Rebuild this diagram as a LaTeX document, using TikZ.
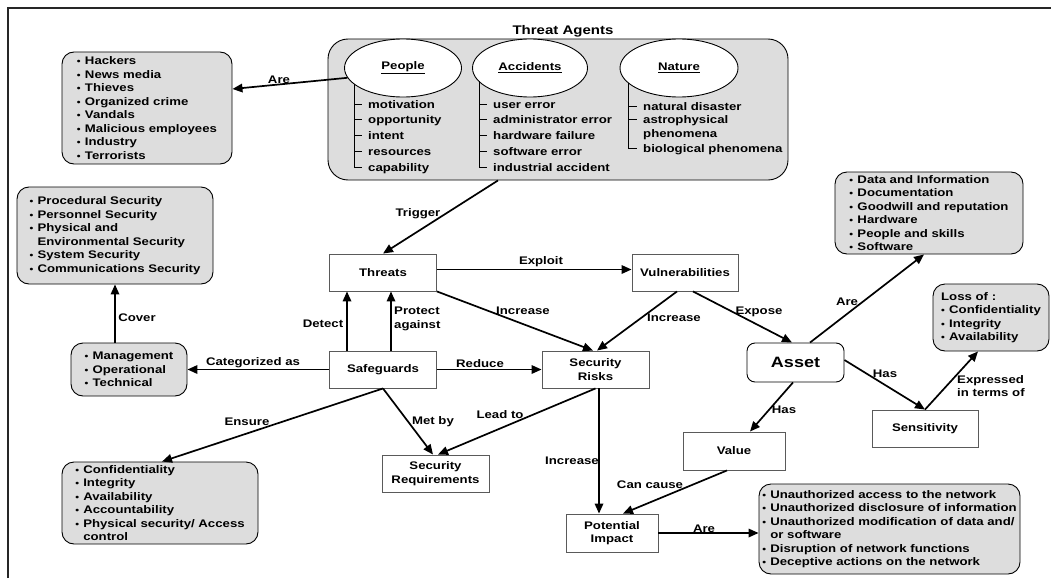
\documentclass[tikz,border=0pt]{standalone}
\usepackage{fontspec}
\setmainfont{Liberation Sans}[FakeStretch=1.2]
\usetikzlibrary{arrows.meta,shapes.geometric}
\definecolor{listgray}{RGB}{221,221,221}
\definecolor{edgegray}{RGB}{90,90,90}
\newcommand\bl{\makebox[8pt][l]{\fontsize{9}{9}\selectfont\textbullet}}
\newcommand\ind{\hspace*{8pt}}
\tikzset{
  base/.style={font=\bfseries\fontsize{11}{13.5}\selectfont},
  box/.style={base, draw=edgegray, line width=0.9pt, fill=white, minimum width=107pt, minimum height=37pt, align=center, inner sep=2pt},
  lst/.style={base, draw=black, line width=0.9pt, fill=listgray, rounded corners=12pt, align=left, inner sep=2pt},
  arr/.style={line width=1.7pt, -{Triangle[length=10pt,width=8.5pt]}},
  lbl/.style={base, inner sep=0pt},
  item/.style={base, anchor=base west, inner xsep=6pt, inner ysep=0pt},
  tree/.style={line width=0.9pt},
  agent/.style={base, ellipse, draw=black, line width=0.9pt, fill=white, minimum width=117pt, minimum height=58pt, inner sep=0pt},
}
\begin{document}
\begin{tikzpicture}[x=1pt,y=-1pt]
\useasboundingbox (0,0) rectangle (1051,578);
% outer frame
\draw[line width=1.2pt, black!85] (8,578) -- (8,8) -- (1051,8);

% threat agents group
\node[lst, rounded corners=20pt, minimum width=460pt, minimum height=141pt] (agents) at (558,109.5) {};
\node[base, font=\bfseries\fontsize{12.5}{14}\selectfont] (agtitle) at (563,31) {Threat Agents};
\node[agent] (people) at (403,68) {\underline{People}};
\node[agent, minimum width=115pt] (accid) at (530,68) {\underline{Accidents}};
\node[agent, minimum width=118pt] (nature) at (679,68) {\underline{Nature}};

% people branch
\node[item] (p1) at (362,108) {motivation};
\node[item] (p2) at (362,123.5) {opportunity};
\node[item] (p3) at (362,139) {intent};
\node[item] (p4) at (362,155) {resources};
\node[item] (p5) at (362,171) {capability};
\coordinate (pTop) at (354,84);
\foreach \i in {1,...,5} {\coordinate (tp\i) at ([yshift=4pt]p\i.base west);}
\foreach \i in {1,...,4} {\draw[tree] (pTop |- tp\i) -- (tp\i);}
\draw[tree] (pTop) |- (tp5);

% accidents branch
\node[item] (a1) at (487,108) {user error};
\node[item] (a2) at (487,123.5) {administrator error};
\node[item] (a3) at (487,139) {hardware failure};
\node[item] (a4) at (487,155) {software error};
\node[item] (a5) at (487,171) {industrial accident};
\coordinate (aTop) at (479,81);
\foreach \i in {1,...,5} {\coordinate (ta\i) at ([yshift=4pt]a\i.base west);}
\foreach \i in {1,...,4} {\draw[tree] (aTop |- ta\i) -- (ta\i);}
\draw[tree] (aTop) |- (ta5);

% nature branch
\node[item] (n1) at (637,110) {natural disaster};
\node[item] (n2) at (637,123) {astrophysical};
\node[item] (n2b) at (637,137) {phenomena};
\node[item] (n3) at (637,152) {biological phenomena};
\coordinate (nTop) at (628,83);
\foreach \i in {1,2,3} {\coordinate (tn\i) at ([yshift=4pt]n\i.base west);}
\foreach \i in {1,2} {\draw[tree] (nTop |- tn\i) -- (tn\i);}
\draw[tree] (nTop) |- (tn3);

% lists
\node[lst, minimum width=170pt, minimum height=112pt] (hackers) at (147,108)
  {\bl Hackers\\ \bl News media\\ \bl Thieves\\ \bl Organized crime\\ \bl Vandals\\ \bl Malicious employees\\ \bl Industry\\ \bl Terrorists};
\node[lst, minimum width=196pt, minimum height=97pt] (procedural) at (115,235.5)
  {\bl Procedural Security\\ \bl Personnel Security\\ \bl Physical and\\ \ind Environmental Security\\ \bl System Security\\ \bl Communications Security};
\node[lst, minimum width=116pt, minimum height=53pt] (mgmt) at (129,369.5)
  {\bl Management\\ \bl Operational\\ \bl Technical};
\node[lst, minimum width=196pt, minimum height=82pt] (conf) at (160,503)
  {\bl Confidentiality\\ \bl Integrity\\ \bl Availability\\ \bl Accountability\\ \bl Physical security/ Access\\ \ind control};
\node[lst, minimum width=188pt, minimum height=82pt] (assetlist) at (929,213)
  {\bl Data and Information\\ \bl Documentation\\ \bl Goodwill and reputation\\ \bl Hardware\\ \bl People and skills\\ \bl Software};
\node[lst, minimum width=116pt, minimum height=67pt] (loss) at (991,317.5)
  {Loss of :\\ \bl Confidentiality\\ \bl Integrity\\ \bl Availability};
\node[lst, minimum width=261pt, minimum height=90pt] (implist) at (889.5,529)
  {\bl Unauthorized access to the network\\ \bl Unauthorized disclosure of information\\ \bl Unauthorized modification of data and/\\ \ind or software\\ \bl Disruption of network functions\\ \bl Deceptive actions on the network};

% concept boxes
\node[box] (threats) at (383,272.5) {Threats};
\node[box, minimum width=106pt] (vuln) at (685,272.5) {Vulnerabilities};
\node[box] (safeg) at (383,369.5) {Safeguards};
\node[box] (risks) at (595.5,369.5) {Security\\Risks};
\node[box] (secreq) at (435.5,473.5) {Security\\Requirements};
\node[box, minimum width=92pt, minimum height=38pt] (impact) at (612,533) {Potential\\Impact};
\node[box, minimum width=102pt, minimum height=38pt] (value) at (734,451) {Value};
\node[box, minimum width=106pt] (sens) at (925,428.5) {Sensitivity};
\node[box, draw=black, rounded corners=8pt, minimum width=97pt, minimum height=39pt,
      font=\bfseries\fontsize{15}{17}\selectfont] (asset) at (795.5,362.5) {Asset};

% relations
\draw[arr] (people.190) -- ([yshift=19pt]hackers.east);
\draw[arr] ([xshift=-60pt]agents.south) -- (threats.north);
\draw[arr] ([yshift=3pt]threats.east) -- ([yshift=3pt]vuln.west);
\draw[arr] (threats.south east) -- ([xshift=-2.5pt]risks.north);
\draw[arr] ([xshift=-8pt]vuln.south) -- ([xshift=1.5pt]risks.north);
\draw[arr] ([xshift=-36pt]safeg.north) -- ([xshift=-36pt]threats.south);
\draw[arr] ([xshift=8pt]safeg.north) -- ([xshift=8pt]threats.south);
\draw[arr] (safeg.east) -- (risks.west);
\draw[arr] (safeg.west) -- (mgmt.east);
\draw[arr] ([xshift=-14pt]mgmt.north) -- (procedural.south);
\draw[arr] (safeg.south) -- ([xshift=2pt]conf.north);
\draw[arr] (safeg.south) -- ([xshift=-2.5pt]secreq.north);
\draw[arr] (risks.south) -- ([xshift=2.5pt]secreq.north);
\draw[arr] ([xshift=3.5pt]risks.south) -- ([xshift=-13pt]impact.north);
\draw[arr] ([xshift=-7pt]value.south) -- ([xshift=11pt]impact.north);
\draw[arr] (impact.east) -- (implist.west |- impact.east);
\draw[arr] ([xshift=8pt]vuln.south) -- ([xshift=-3.5pt]asset.north);
\draw[arr] ([xshift=14.5pt]asset.north) -- ([xshift=-5pt]assetlist.south);
\draw[arr] ([yshift=2.5pt]asset.east) -- (sens.north);
\draw[arr] (sens.north) -- ([xshift=-13pt]loss.south);
\draw[arr] ([xshift=-2.5pt]asset.south) -- ([xshift=16pt]value.north);

% relation labels
\node[lbl] (lAreA) at (279,80) {Are};
\node[lbl] (lTrig) at (418,214) {Trigger};
\node[lbl] (lExpl) at (541,262) {Exploit};
\node[lbl] (lInc1) at (523,311) {Increase};
\node[lbl] (lInc2) at (674,318) {Increase};
\node[lbl] (lDet) at (323,324) {Detect};
\node[lbl, anchor=west, align=left] (lProt) at (394,319) {Protect\\against};
\node[lbl] (lRed) at (480,364) {Reduce};
\node[lbl] (lMet) at (433,422) {Met by};
\node[lbl] (lLead) at (500,415) {Lead to};
\node[lbl] (lEns) at (247,422) {Ensure};
\node[lbl] (lCat) at (253,363) {Categorized as};
\node[lbl] (lCov) at (137,318) {Cover};
\node[lbl] (lExp) at (759,312) {Expose};
\node[lbl] (lAreB) at (847,302) {Are};
\node[lbl] (lHasA) at (885,374) {Has};
\node[lbl, anchor=west, align=left] (lExpr) at (957,386) {Expressed\\in terms of};
\node[lbl] (lHasB) at (784,410) {Has};
\node[lbl] (lCan) at (650,485) {Can cause};
\node[lbl] (lInc3) at (572,461) {Increase};
\node[lbl] (lAreC) at (704,529) {Are};
\end{tikzpicture}
\end{document}
